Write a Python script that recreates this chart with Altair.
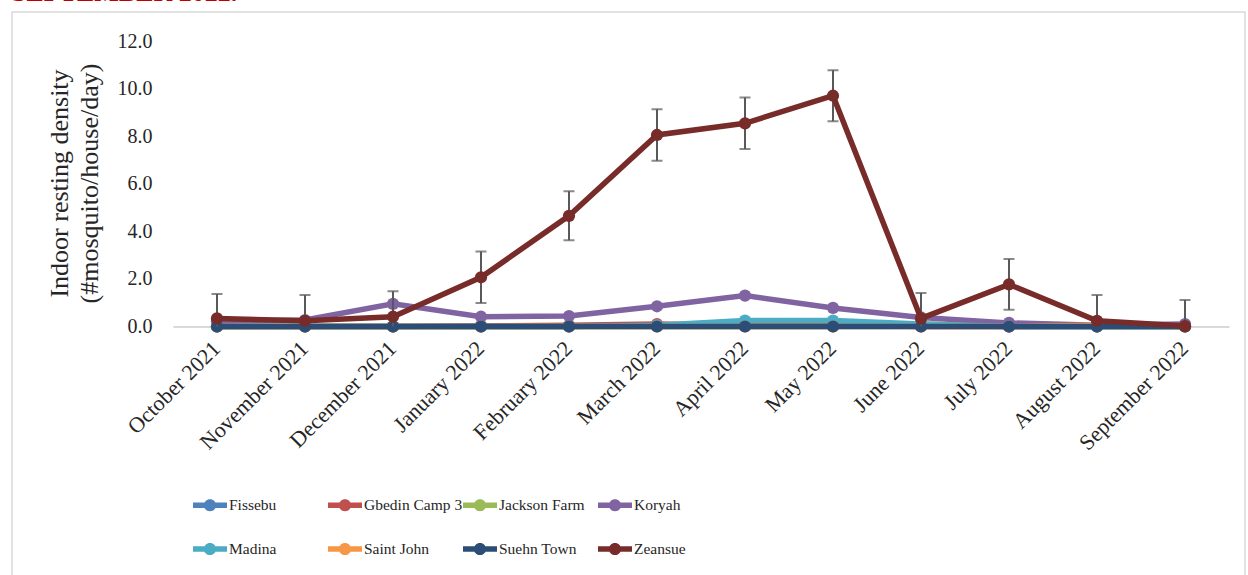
import altair as alt
import pandas as pd

# Survey months (x categories)
months = [
    "October 2021", "November 2021", "December 2021", "January 2022",
    "February 2022", "March 2022", "April 2022", "May 2022",
    "June 2022", "July 2022", "August 2022", "September 2022",
]

# Sites, in drawing / legend order
sites = ["Fissebu", "Gbedin Camp 3", "Jackson Farm", "Koryah",
         "Madina", "Saint John", "Suehn Town", "Zeansue"]

# Indoor resting density (#mosquito/house/day) per site and month
fissebu = [0.0, 0.0, 0.0, 0.0, 0.0, 0.05, 0.15, 0.15, 0.05, 0.0, 0.0, 0.0]
gbedin_camp_3 = [0.0, 0.0, 0.0, 0.03, 0.05, 0.1, 0.05, 0.05, 0.0, 0.0, 0.0, 0.0]
jackson_farm = [0.0, 0.0, 0.0, 0.0, 0.0, 0.0, 0.0, 0.0, 0.1, 0.05, 0.0, 0.0]
koryah = [0.22, 0.27, 0.95, 0.41, 0.44, 0.85, 1.3, 0.78, 0.38, 0.15, 0.05, 0.1]
madina = [0.0, 0.0, 0.0, 0.0, 0.0, 0.05, 0.25, 0.25, 0.1, 0.0, 0.0, 0.0]
saint_john = [0.0, 0.0, 0.0, 0.0, 0.0, 0.0, 0.0, 0.0, 0.0, 0.0, 0.05, 0.0]
suehn_town = [0.0, 0.0, 0.0, 0.0, 0.0, 0.0, 0.0, 0.0, 0.0, 0.0, 0.0, 0.0]
zeansue = [0.34, 0.24, 0.41, 2.07, 4.65, 8.05, 8.54, 9.7, 0.34, 1.77, 0.24, 0.02]

# Error margins on the Zeansue series
zeansue_err = [1.03, 1.08, 1.07, 1.08, 1.03, 1.08, 1.08, 1.07, 1.07, 1.07, 1.08, 1.09]

site_colors = ["#4F81BD", "#C0504D", "#9BBB59", "#8064A2",
               "#4BACC6", "#F79646", "#2C4D75", "#772C2A"]

y_ticks = [0, 2, 4, 6, 8, 10, 12]

series_values = [fissebu, gbedin_camp_3, jackson_farm, koryah,
                 madina, saint_john, suehn_town, zeansue]

rows = []
for name, vals in zip(sites, series_values):
    for m, v in zip(months, vals):
        rows.append({"month": m, "site": name, "density": v})
df = pd.DataFrame(rows)

err_df = pd.DataFrame({
    "month": months,
    "lo": [v - e for v, e in zip(zeansue, zeansue_err)],
    "hi": [v + e for v, e in zip(zeansue, zeansue_err)],
})

FONT = "Liberation Serif"
TEXT = "#262626"

# legend glyph: a short thick line with a dot in the middle
LEGEND_GLYPH = ("M-1,-0.16L1,-0.16L1,0.16L-1,0.16Z"
                "M0.36,0A0.36,0.36,0,1,1,-0.36,0A0.36,0.36,0,1,1,0.36,0Z")

x_enc = alt.X(
    "month:N", sort=months,
    scale=alt.Scale(type="point", padding=0.5),
    axis=alt.Axis(
        title=None, labelAngle=315, ticks=False, tickSize=0,
        domainColor="#D9D9D9", domainWidth=2,
        labelFont=FONT, labelFontSize=22, labelColor=TEXT,
        labelPadding=11, labelOffset=-8,
    ),
)
y_enc = alt.Y(
    "density:Q",
    scale=alt.Scale(domain=[0, 12], nice=False),
    axis=alt.Axis(
        values=y_ticks, format=".1f", grid=False, domain=False,
        ticks=False, tickSize=0,
        labelFont=FONT, labelFontSize=20, labelColor=TEXT, labelPadding=21,
        title=["Indoor resting density", "(#mosquito/house/day)"],
        titleFont=FONT, titleFontSize=26, titleFontWeight="normal",
        titleColor=TEXT, titleAngle=270, titleAlign="center",
        titleBaseline="alphabetic", titleLineHeight=30,
        titleX=-106, titleY=142,
    ),
)
color_scale = alt.Scale(domain=sites, range=site_colors)

legend = alt.Legend(
    title=None, orient="none", legendX=20, legendY=447,
    columns=4, direction="horizontal", gridAlign="all",
    symbolType=LEGEND_GLYPH, symbolSize=1156, symbolStrokeWidth=0,
    symbolOpacity=1,
    labelFont=FONT, labelFontSize=15.5, labelColor=TEXT,
    labelOffset=2, columnPadding=0, rowPadding=18,
    padding=0, offset=0,
)

LINE_W = 5.5
DOT = 150

layers = []
for i, name in enumerate(sites):
    sub = alt.Chart(df).transform_filter(alt.datum.site == name)
    if name == "Zeansue":
        # error bars sit beneath the Zeansue line
        err_base = alt.Chart(err_df).encode(x=alt.X("month:N", sort=months))
        layers.append(
            err_base.mark_rule(color="#595959", strokeWidth=2, clip=True)
            .encode(y="lo:Q", y2="hi:Q")
        )
        layers.append(
            err_base.mark_tick(color="#595959", thickness=2, size=11, clip=True)
            .encode(y="hi:Q")
        )
        layers.append(
            err_base.mark_tick(color="#595959", thickness=2, size=11, clip=True)
            .encode(y="lo:Q")
        )
    layers.append(
        sub.mark_line(strokeWidth=LINE_W, color=site_colors[i]).encode(x=x_enc, y=y_enc)
    )
    if i == 0:
        # the first site's dots carry the colour legend for all sites
        layers.append(
            sub.mark_point(filled=True, size=DOT, opacity=1).encode(
                x=x_enc, y=y_enc,
                color=alt.Color("site:N", scale=color_scale, legend=legend),
            )
        )
    else:
        layers.append(
            sub.mark_point(filled=True, size=DOT, opacity=1,
                           color=site_colors[i]).encode(x=x_enc, y=y_enc)
        )

# caption line cut off at the top edge, and the chart frame
caption = alt.Chart(pd.DataFrame({"t": ["SEPTEMBER 2022."]})).mark_text(
    align="left", baseline="alphabetic", font=FONT, fontSize=26,
    fontWeight="bold", color="#C00000",
).encode(x=alt.value(-161), y=alt.value(-40), text="t:N")

frame = alt.Chart(pd.DataFrame({"k": [0]})).mark_rect(
    fillOpacity=0, stroke="#D9D9D9", strokeWidth=1.5,
).encode(x=alt.value(-161), x2=alt.value(1072), y=alt.value(-29), y2=alt.value(560))

chart = alt.layer(frame, caption, *layers).properties(
    width=1056, height=285.5,
    autosize=alt.AutoSizeParams(type="none"),
    padding={"left": 173, "top": 41, "right": 19, "bottom": 248.5},
    background="white",
).configure_view(stroke=None)

chart.save("out.html", embed_options={"renderer": "svg", "actions": False})
